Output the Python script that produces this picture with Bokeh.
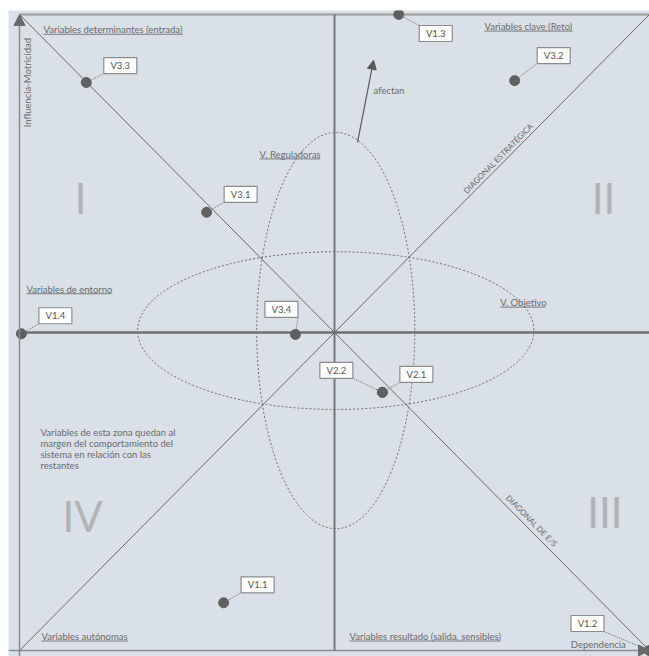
import math
from bokeh.plotting import figure
from bokeh.models import Arrow, NormalHead
from bokeh.core.properties import value
from bokeh.embed import file_html
from bokeh.resources import INLINE

# ---------------- data ----------------
var_names = ["V1.1", "V1.2", "V1.3", "V1.4", "V2.1", "V2.2", "V3.1", "V3.2", "V3.3", "V3.4"]
dependencia = [32.4, 100.0, 60.2, 0.3, 57.6, 57.6, 29.7, 78.6, 10.6, 43.8]
influencia = [7.5, 0.0, 100.0, 49.8, 40.6, 40.6, 68.9, 89.6, 89.3, 49.7]

zone_labels = ["Variables determinantes (entrada)", "Variables clave (Reto)",
               "V. Reguladoras", "Variables de entorno", "V. Objetivo",
               "Variables autónomas", "Variables resultado (salida, sensibles)"]
note_lines = ["Variables de esta zona quedan al", "margen del comportamiento del",
              "sistema en relación con las", "restantes"]
quadrants = ["I", "II", "III", "IV"]

# ---------------- layout ----------------
SX, SY = 6.3, 6.36          # pixels per data unit
FONT = value("Lato")
FS = 9.5
TXT = "#6a6a6a"

# approximate Lato advance widths (em) for underline lengths
_EM = {"a": .51, "b": .56, "c": .46, "d": .56, "e": .52, "f": .32, "g": .5, "h": .56,
       "i": .24, "j": .24, "k": .5, "l": .24, "m": .84, "n": .56, "o": .56, "p": .56,
       "q": .56, "r": .36, "s": .42, "t": .35, "u": .56, "v": .5, "w": .76, "x": .49,
       "y": .5, "z": .44, " ": .19, "(": .3, ")": .3, ",": .2, ".": .2, "ó": .56,
       "V": .66, "R": .6, "O": .76}


def text_px(s):
    return sum(_EM.get(c, .62) for c in s) * FS


p = figure(width=649, height=656, output_backend="svg", toolbar_location=None,
           x_range=(-11 / SX, 100.0), y_range=(-6 / SY, 100 + 4 / SY),
           x_axis_type=None, y_axis_type=None,
           min_border_left=8, min_border_right=0, min_border_bottom=0, min_border_top=10)
p.background_fill_color = "#d9e0e7"
p.border_fill_color = "white"
p.outline_line_color = None

# frame / cross / diagonals
p.segment(x0=[0], y0=[100], x1=[100], y1=[100], line_color="#9c9c9c", line_width=2)
p.segment(x0=[50], y0=[0], x1=[50], y1=[100], line_color="#777777", line_width=2)
p.segment(x0=[0], y0=[50], x1=[100], y1=[50], line_color="#707070", line_width=2.5)
p.segment(x0=[0, 0], y0=[0, 100], x1=[100, 100], y1=[100, 0], line_color="#6a6a6a", line_width=1)

# ellipses
p.ellipse(x=[50.2, 50.2], y=[50.3, 50.3], width=[62.9, 25.1], height=[24.8, 62.3],
          fill_color=None, line_color="#6a6a6a", line_dash="2 2", line_width=1)

# axes with arrows
p.add_layout(Arrow(end=NormalHead(size=11, fill_color="#6a6a6a", line_color="#6a6a6a"),
                   x_start=0, y_start=-1, x_end=0, y_end=100,
                   line_color="#8a8a8a", line_width=1.5))
p.add_layout(Arrow(end=NormalHead(size=11, fill_color="#6a6a6a", line_color="#6a6a6a"),
                   x_start=-11 / SX, y_start=0, x_end=100, y_end=0,
                   line_color="#8a8a8a", line_width=1.5))
# "afectan" arrow
p.add_layout(Arrow(end=NormalHead(size=9, fill_color="#5a5a5a", line_color="#5a5a5a"),
                   x_start=53.65, y_start=79.9, x_end=56.2, y_end=92.8,
                   line_color="#5a5a5a", line_width=1.2))

# ---------------- variable points with boxed labels ----------------
offsets = {  # box centre relative to the dot, screen px (dx right, dy down)
    "V1.1": (34, -18), "V1.2": (-62, -27), "V1.3": (37, 19), "V1.4": (34, -18),
    "V2.1": (34, -18), "V2.2": (-46, -22), "V3.1": (34, -18), "V3.2": (39, -25),
    "V3.3": (34, -17), "V3.4": (-14, -25),
}
BW, BH = 33, 16
bx, by, cx, cy = [], [], [], []
for n, x, y in zip(var_names, dependencia, influencia):
    dx, dy = offsets[n]
    bx.append(x + dx / SX)
    by.append(y - dy / SY)
    cxp = dx - math.copysign(BW / 2, dx)
    cyp = dy - math.copysign(BH / 2, dy)
    cx.append(x + cxp / SX)
    cy.append(y - cyp / SY)

p.segment(x0=dependencia, y0=influencia, x1=cx, y1=cy,
          line_color="#707070", line_dash="1 1", line_width=1)
p.scatter(x=dependencia, y=influencia, size=10, fill_color="#606060", line_color="#606060")
p.rect(x=bx, y=by, width=BW, height=BH, width_units="screen", height_units="screen",
       fill_color="white", line_color="#8c8c8c", line_width=1.2)
p.text(x=bx, y=by, text=var_names, text_align="center", text_baseline="middle",
       text_font=FONT, text_font_size="9.5px", text_color="#555555")

# ---------------- zone labels (underlined) ----------------
zx = [3.81, 73.8, 38.1, 1.11, 76.3, 3.49, 52.4]
zy = [97.6, 98.1, 78.0, 56.8, 54.7, 2.2, 2.2]
p.text(x=zx, y=zy, text=zone_labels, text_align="left", text_baseline="middle",
       text_font=FONT, text_font_size=f"{FS}px", text_color=TXT)
p.segment(x0=zx, y0=[v - 4.5 / SY for v in zy],
          x1=[x + text_px(s) / SX for x, s in zip(zx, zone_labels)],
          y1=[v - 4.5 / SY for v in zy], line_color="#7a7a7a", line_width=1)

p.text(x=[3.33] * 4, y=[34.3, 32.55, 30.8, 29.05], text=note_lines, text_align="left",
       text_baseline="middle", text_font=FONT, text_font_size=f"{FS}px", text_color=TXT)

p.text(x=[87.5], y=[0.94], text=["Dependencia"], text_align="left", text_baseline="middle",
       text_font=FONT, text_font_size=f"{FS}px", text_color=TXT)
p.text(x=[1.27], y=[89.3], text=["Influencia-Motricidad"], angle=math.pi / 2,
       text_align="center", text_baseline="middle",
       text_font=FONT, text_font_size=f"{FS}px", text_color=TXT)
p.text(x=[56.2], y=[88.1], text=["afectan"], text_align="left", text_baseline="middle",
       text_font=FONT, text_font_size=f"{FS}px", text_color=TXT)

ang = math.atan2(100 * SY, 100 * SX)
p.text(x=[76.0], y=[77.4], text=["DIAGONAL ESTRATÉGICA"], angle=ang,
       text_align="center", text_baseline="middle",
       text_font=FONT, text_font_size="8px", text_color=TXT)
p.text(x=[81.3], y=[20.4], text=["DIAGONAL DE E/S"], angle=-ang,
       text_align="center", text_baseline="middle",
       text_font=FONT, text_font_size="8px", text_color=TXT)

# quadrant numerals
p.text(x=[9.7, 92.7, 92.9, 10.0], y=[71.2, 71.2, 21.7, 21.2], text=quadrants,
       text_align="center", text_baseline="middle",
       text_font=FONT, text_font_size="42px", text_color="#b3b3b3")

open("out.html", "w").write(file_html(p, INLINE))
